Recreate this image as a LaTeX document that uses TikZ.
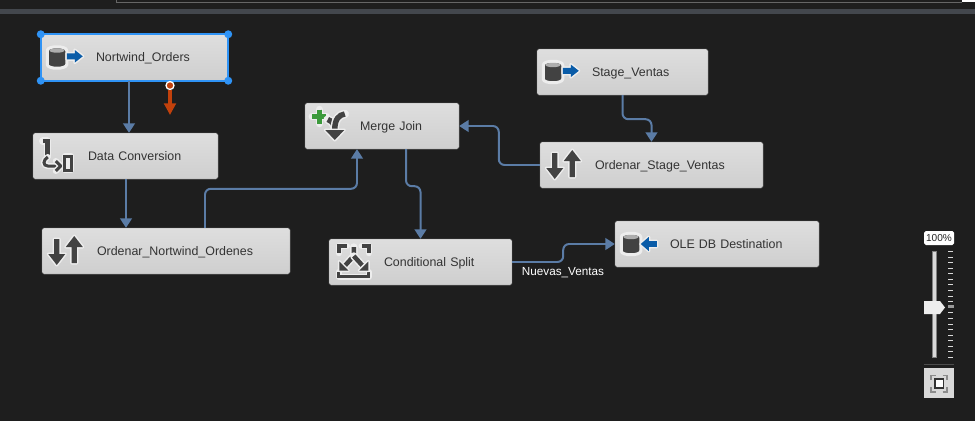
\documentclass[tikz,border=0pt]{standalone}
\usepackage{fontspec}
\setmainfont{Liberation Sans}
\usetikzlibrary{arrows.meta}

\definecolor{fondo}{HTML}{1E1E1E}
\definecolor{banda}{HTML}{43474D}
\definecolor{flujo}{HTML}{5B7CA6}
\definecolor{rojo}{HTML}{C2410C}
\definecolor{selec}{HTML}{2F93F5}
\definecolor{icono}{HTML}{424242}
\definecolor{halo}{HTML}{EDEDED}
\definecolor{azul}{HTML}{0A5CA8}
\definecolor{verde}{HTML}{3C9A3C}

\newcommand{\conhalo}[2]{\draw[brillo=#1+3] #2; \draw[traza=#1] #2;}
\newcommand{\relleno}[2][icono]{\filldraw[brillo=3, fill=halo] #2; \fill[#1] #2;}

\tikzset{
  caja/.style={rectangle, rounded corners=1.5, draw=black!45, line width=0.4pt, top color=black!13, bottom color=black!19,
    minimum width=#1*0.03cm, text width=#1*0.03cm, minimum height=46*0.03cm, inner sep=0pt, align=left,
    text height=9.2pt, text depth=2pt, font=\fontsize{10.6}{12}\selectfont, text=black!80,
    execute at begin node={\hspace*{1.65cm}}},
  enlace/.style={line width=1.7pt, flujo, rounded corners=5, -{Triangle[width=10pt,length=8pt]}},
  manija/.style={circle, fill=selec, minimum size=8*0.03cm, inner sep=0pt},
  traza/.style={line width=(#1)*0.03cm, draw=icono},
  brillo/.style={line width=(#1)*0.03cm, draw=halo, line join=round, line cap=round},
  cilindro/.pic={
    \filldraw[brillo=3, fill=icono] (6.5, -7) -- (6.5, 7) .. controls (6.5, 12) and (26, 12) .. (26, 7)
      -- (26, -7) .. controls (26, -12) and (6.5, -12) .. (6.5, -7) -- cycle;
    \fill[black!32] (16.2, -7) ellipse [x radius=7.5, y radius=2.2];
  },
  fuente/.pic={
    \pic {cilindro};
    \relleno[azul]{(26, -4.2) -- (34, -4.2) -- (34, -7.5) -- (42, -1.2) -- (34, 5.1) -- (34, 1.8) -- (26, 1.8) -- cycle}
  },
  destino/.pic={
    \pic {cilindro};
    \relleno[azul]{(42, -2.8) -- (34, -2.8) -- (34, -7) -- (26, 0) -- (34, 7) -- (34, 2.8) -- (42, 2.8) -- cycle}
  },
  orden/.pic={
    \relleno{(12.3, -12) -- (17.7, -12) -- (17.7, 3) -- (23.5, 3) -- (15, 14) -- (6.5, 3) -- (12.3, 3) -- cycle}
    \relleno{(29.8, 12) -- (35.2, 12) -- (35.2, -4) -- (41, -4) -- (32.5, -15) -- (24, -4) -- (29.8, -4) -- cycle}
  },
  convertir/.pic={
    \conhalo{4.5}{(10, -15) -- (14.5, -15) -- (14.5, 0)}
    \conhalo{3}{(15, 1) .. controls (10, 4) and (10, 10) .. (15, 10) -- (28, 10)}
    \conhalo{3}{(23, 5) -- (28, 10) -- (23, 15)}
    \conhalo{3}{(32, 0) rectangle (38.5, 14)}
  },
  unir/.pic={
    \conhalo{4.5}{(14.5, -16.5) -- (14.5, -2.5)}
    \conhalo{4.5}{(7.5, -9.5) -- (21.5, -9.5)}
    \draw[line width=4.5*0.03cm, verde] (14.5, -16.5) -- (14.5, -2.5) (7.5, -9.5) -- (21.5, -9.5);
    \conhalo{5.5}{(23, -6.5) .. controls (27, -5) and (30, -2) .. (30, 4)}
    \conhalo{5.5}{(40, -12) .. controls (34, -11) and (30, -7) .. (30, 4)}
    \relleno{(20.5, 4) -- (39.5, 4) -- (30, 14) -- cycle}
  },
  dividir/.pic={
    \conhalo{3.5}{(18, -16) -- (10, -16) -- (10, -9)}
    \conhalo{3.5}{(33, -16) -- (40, -16) -- (40, -9)}
    \conhalo{3}{(10, 10) -- (10, 14.7) -- (40, 14.7) -- (40, 10)}
    \conhalo{4.5}{(25, -15) -- (25, -6) -- (15, 5)}
    \conhalo{4.5}{(25, -6) -- (35, 5)}
    \relleno{(10.5, 8.5) -- (10.5, -0.5) -- (19.5, 8.5) -- cycle}
    \relleno{(39.5, 8.5) -- (39.5, -0.5) -- (30.5, 8.5) -- cycle}
  },
}

\begin{document}
\begin{tikzpicture}[x=0.03cm, y=-0.03cm]
  \useasboundingbox (0, 0) rectangle (975, 421);
  \fill[fondo] (0, 0) rectangle (975, 421);

  % barra de arriba
  \fill[banda] (0, 9) rectangle (975, 14);
  \draw[black!60, line width=0.7pt] (116, 0) -- (116, 2.5) -- (962, 2.5);
  \fill[white] (962, 0) rectangle (975, 2);

  % cajas
  \node[caja=187] (NOrders) at (134.5, 57.5) {Nortwind\_Orders};
  \node[caja=185] (DConv) at (125.5, 156) {Data Conversion};
  \node[caja=248] (ONort) at (166, 251) {Ordenar\_Nortwind\_Ordenes};
  \node[caja=154] (MJoin) at (382, 126) {Merge Join};
  \node[caja=183] (CSplit) at (420.5, 262) {Conditional Split};
  \node[caja=171] (SVentas) at (622.5, 72) {Stage\_Ventas};
  \node[caja=223] (OStage) at (651.5, 165) {Ordenar\_Stage\_Ventas};
  \node[caja=204] (OleDest) at (717, 244) {OLE DB Destination};

  % iconos
  \pic at (NOrders.west) {fuente};
  \pic at (SVentas.west) {fuente};
  \pic at (OleDest.west) {destino};
  \pic at (DConv.west) {convertir};
  \pic at (ONort.west) {orden};
  \pic at (OStage.west) {orden};
  \pic at (MJoin.west) {unir};
  \pic at (CSplit.west) {dividir};

  % seleccion
  \draw[selec, line width=1.7pt] (NOrders.north west) rectangle (NOrders.south east);
  \foreach \esq/\nom in {north west/A, north east/B, south west/C, south east/D}
    \node[manija] (H\nom) at (NOrders.\esq) {};

  % enlaces
  \draw[enlace] ([xshift=-5.5*0.03cm]NOrders.south) -- ([xshift=3.5*0.03cm]DConv.north);
  \draw[enlace] ([xshift=0.5*0.03cm]DConv.south) -- ([xshift=-40*0.03cm]ONort.north);
  \draw[enlace] ([xshift=39*0.03cm]ONort.north) -- ++(0, -39) -| ([xshift=-25*0.03cm]MJoin.south);
  \draw[enlace] (SVentas.south) -- ++(0, 24) -| (OStage.north);
  \draw[enlace] (OStage.west) -- ++(-41, 0) |- (MJoin.east);
  \draw[enlace] ([xshift=24*0.03cm]MJoin.south) -- ++(0, 37) -| (CSplit.north);
  \draw[enlace] (CSplit.east) -- ++(51, 0) |- (OleDest.west);

  \node[text=white, font=\fontsize{10}{12}\selectfont, inner sep=0pt, text height=9.2pt, text depth=2pt] (LVentas) at (563, 271) {Nuevas\_Ventas};

  % salida de error
  \coordinate (EPunta) at (170, 115);
  \node[circle, fill=rojo, draw=white, line width=1.1pt, minimum size=8*0.03cm, inner sep=0pt] (EBase) at (170, 85.5) {};
  \draw[rojo, line width=3.4pt, -{Triangle[width=10pt,length=10pt]}] (EBase) -- (EPunta);

  % zoom
  \node[fill=white, rounded corners=1.5, minimum width=30*0.03cm, minimum height=14*0.03cm, inner sep=0pt,
    font=\fontsize{8.6}{10}\selectfont, text=black!85] (LZoom) at (939, 238) {100\%};
  \fill[black!15, draw=black!50, line width=0.4pt] (932, 251) rectangle (936, 357);
  \foreach \i in {0,...,19}
    \fill[black!15] (948, 251 + 5.58*\i) rectangle (953, 252 + 5.58*\i);
  \fill[black!40] (948, 305) rectangle (954, 308);
  \fill[black!7] (924, 301) -- (940, 301) -- (945, 307.5) -- (940, 314) -- (924, 314) -- cycle;
  \draw[black!70, line width=0.6pt] (924, 364) -- (954, 364);
  \node[fill=black!15, minimum size=30*0.03cm, inner sep=0pt] (BAjuste) at (939, 383) {};
  \draw[black!45, line width=1.7pt]
    (931, 380) -- (931, 375.5) -- (935.5, 375.5) (942.5, 375.5) -- (947, 375.5) -- (947, 380)
    (931, 387) -- (931, 391.5) -- (935.5, 391.5) (942.5, 391.5) -- (947, 391.5) -- (947, 387);
  \filldraw[fill=white, draw=black!80, line width=1pt] (935, 379) rectangle (943.5, 388);
\end{tikzpicture}
\end{document}
